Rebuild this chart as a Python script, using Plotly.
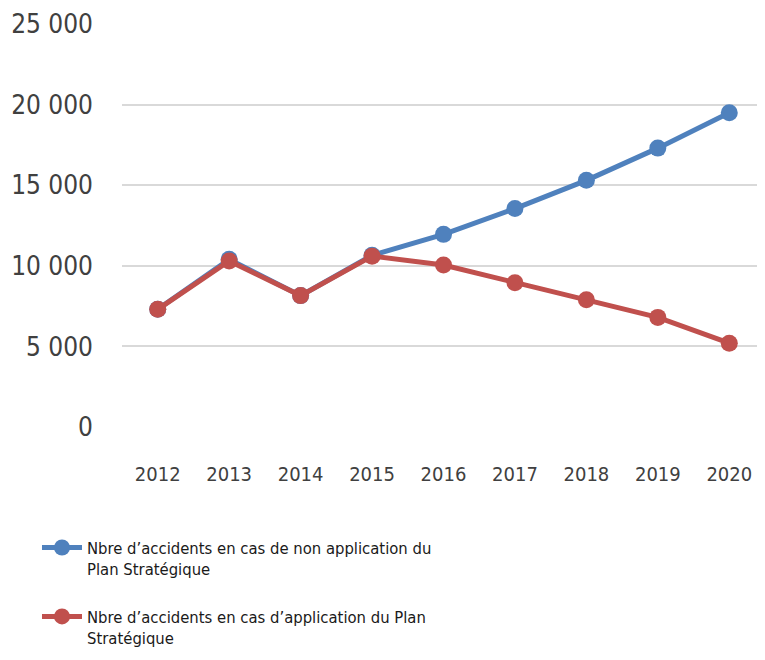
import plotly.graph_objects as go

years = ["2012", "2013", "2014", "2015", "2016", "2017", "2018", "2019", "2020"]
sans_plan = [7300, 10400, 8150, 10650, 11950, 13550, 15300, 17300, 19500]
avec_plan = [7300, 10300, 8150, 10600, 10050, 8950, 7900, 6800, 5200]
names = ["Nbre d\u2019accidents en cas de non application du<br>Plan Strat\u00e9gique",
         "Nbre d\u2019accidents en cas d\u2019application du Plan<br>Strat\u00e9gique"]

font = "Liberation Sans Narrow, DejaVu Sans Condensed, Arial Narrow, sans-serif"

fig = go.Figure()
fig.add_trace(go.Scatter(x=years, y=sans_plan, name=names[0], mode="lines+markers", legendgroup="a",
                         line=dict(color="#4f81bd", width=5), marker=dict(size=17, color="#4f81bd")))
fig.add_trace(go.Scatter(x=years, y=avec_plan, name=names[1], mode="lines+markers", legendgroup="b",
                         line=dict(color="#c0504d", width=5), marker=dict(size=17, color="#c0504d")))

# page body adds an 8px offset, so the figure is 8px smaller
fig.update_layout(
    width=757, height=652,
    margin=dict(l=114, r=0, t=16, b=233, autoexpand=False),
    plot_bgcolor="white", paper_bgcolor="white",
    separators=", ",
    font=dict(family=font, color="#404040"),
    xaxis=dict(range=[-0.5, 8.5], showgrid=False, showline=False, ticks="",
               tickfont=dict(size=20, color="#404040"), ticklabelstandoff=33, tickangle=0),
    yaxis=dict(range=[0, 25000], dtick=5000, tickformat=",d", showgrid=True, gridcolor="#d9d9d9",
               gridwidth=1.5, zeroline=False, tickfont=dict(size=26, color="#404040"),
               ticklabelstandoff=28),
    legend=dict(xref="container", yref="container", x=0.0383, y=0.199, xanchor="left", yanchor="top",
                font=dict(size=16.5, color="#1a1a1a"), tracegroupgap=23, itemwidth=40, valign="top"),
)

fig.write_html("out.html")
